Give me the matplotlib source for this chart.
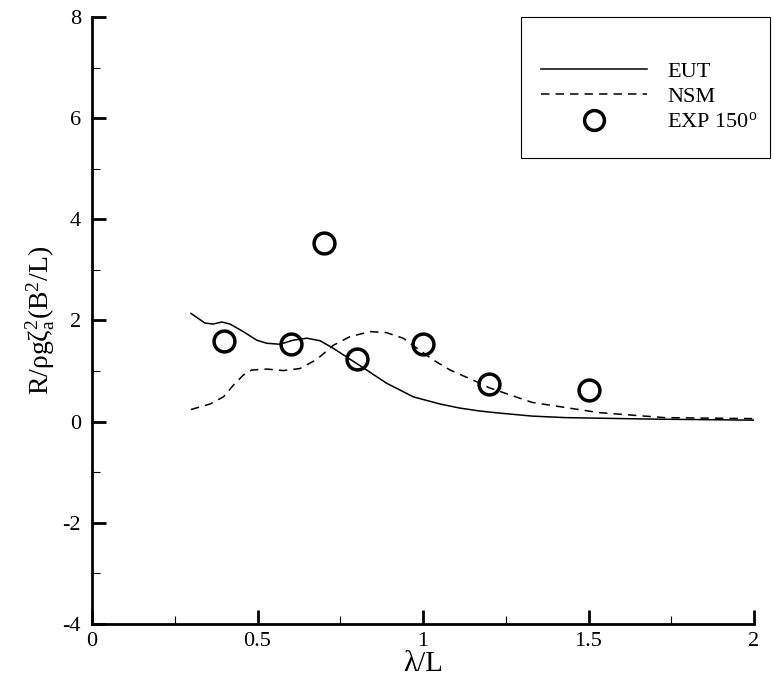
import numpy as np
import matplotlib
matplotlib.use("Agg")
import matplotlib.pyplot as plt
from matplotlib.patches import Rectangle
from matplotlib.ticker import MultipleLocator

plt.rcParams["font.family"] = ["Liberation Serif", "DejaVu Serif"]
plt.rcParams["mathtext.fontset"] = "custom"
plt.rcParams["mathtext.rm"] = "Liberation Serif"
plt.rcParams["mathtext.it"] = "Liberation Serif:italic"
plt.rcParams["axes.unicode_minus"] = False

# EUT (solid) curve
eut_x = [0.299, 0.341, 0.366, 0.392, 0.417, 0.457, 0.498, 0.528, 0.568, 0.607,
         0.649, 0.689, 0.729, 0.769, 0.83, 0.89, 0.971, 1.051, 1.11, 1.172,
         1.23, 1.33, 1.43, 1.70, 2.00]
eut_y = [2.14, 1.95, 1.93, 1.97, 1.93, 1.78, 1.61, 1.55, 1.53, 1.61,
         1.65, 1.60, 1.45, 1.28, 1.02, 0.76, 0.49, 0.35, 0.27, 0.21,
         0.17, 0.11, 0.08, 0.05, 0.03]

# NSM (dashed) curve
nsm_x = [0.299, 0.357, 0.397, 0.427, 0.457, 0.482, 0.528, 0.578, 0.628, 0.679,
         0.729, 0.779, 0.84, 0.89, 0.94, 1.031, 1.082, 1.162, 1.20, 1.33,
         1.53, 1.73, 2.00]
nsm_y = [0.24, 0.35, 0.49, 0.72, 0.92, 1.02, 1.04, 1.01, 1.05, 1.23,
         1.51, 1.68, 1.78, 1.76, 1.65, 1.22, 1.02, 0.79, 0.67, 0.38,
         0.18, 0.08, 0.06]

# experiment points
exp_x = [0.4, 0.6, 0.7, 0.8, 1.0, 1.2, 1.5]
exp_y = [1.59, 1.53, 3.53, 1.24, 1.53, 0.74, 0.62]

W, H = 775, 680
fig = plt.figure(figsize=(W / 100, H / 100), dpi=100)
ax = fig.add_axes([92 / W, 1 - 624 / H, (754 - 92) / W, (624 - 17) / H])

l1, = ax.plot(eut_x, eut_y, color="black", lw=1.1, label="EUT")
l2, = ax.plot(nsm_x, nsm_y, color="black", lw=1.1, dashes=(5.5, 4), label="NSM")
l3, = ax.plot(exp_x, exp_y, ls="none", marker="o", ms=15, mfc="none",
              mec="black", mew=2.5, label=r"EXP 150$^\mathrm{o}$")

ax.set_xlim(0, 2)
ax.set_ylim(-4, 8)
ax.xaxis.set_major_locator(MultipleLocator(0.5))
ax.xaxis.set_minor_locator(MultipleLocator(0.25))
ax.yaxis.set_major_locator(MultipleLocator(2))
ax.yaxis.set_minor_locator(MultipleLocator(1))
ax.set_xticks([0, 0.5, 1, 1.5, 2])
ax.set_xticklabels(["0", "0.5", "1", "1.5", "2"])

for s in ["top", "right"]:
    ax.spines[s].set_visible(False)
for s in ["left", "bottom"]:
    ax.spines[s].set_linewidth(2.0)

ax.tick_params(which="major", direction="in", length=10, width=2.0,
               labelsize=16, pad=6)
ax.tick_params(which="minor", direction="in", length=5.8, width=0.8)
ax.tick_params(axis="y", which="major", pad=8)

ax.set_xlabel("λ/L", fontsize=21, labelpad=0)
ax.set_ylabel(r"$\mathrm{R/ρgζ_a^2(B^2/L)}$", fontsize=20, labelpad=4)

# legend frame
fig.patches.append(Rectangle((521 / W, 1 - 158 / H), (770 - 521) / W, (158 - 17) / H,
                             transform=fig.transFigure, fill=False,
                             edgecolor="black", lw=0.8))
fig.legend(handles=[l1, l2, l3], loc="upper left",
           bbox_to_anchor=(541 / W, 1 - 61 / H), frameon=False,
           fontsize=16, handlelength=4.77, handletextpad=0.9,
           labelspacing=0.22, borderpad=0, borderaxespad=0, markerscale=0.95)

fig.savefig("out.png", dpi=100)
